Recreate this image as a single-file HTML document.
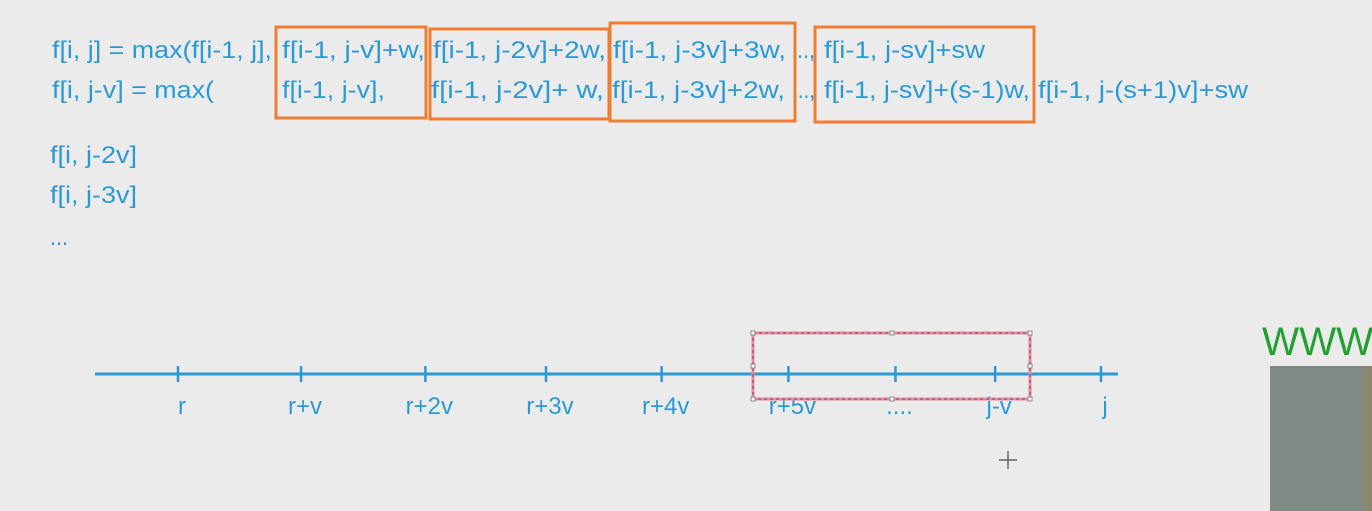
<!DOCTYPE html>
<html><head><meta charset="utf-8"><style>
html,body{margin:0;padding:0;background:#ebebeb;overflow:hidden}
svg{display:block}
text{font-family:"Liberation Sans","DejaVu Sans",sans-serif;fill:#2b9ad3;font-size:24px}
</style></head><body>
<svg width="1372" height="511" viewBox="0 0 1372 511">
<rect width="1372" height="511" fill="#ebebeb"/>
<g>
<text x="52" y="58" textLength="220" lengthAdjust="spacingAndGlyphs">f[i, j] = max(f[i-1, j],</text>
<text x="282" y="58" textLength="143" lengthAdjust="spacingAndGlyphs">f[i-1, j-v]+w,</text>
<text x="433" y="58" textLength="173" lengthAdjust="spacingAndGlyphs">f[i-1, j-2v]+2w,</text>
<text x="613" y="58" textLength="173" lengthAdjust="spacingAndGlyphs">f[i-1, j-3v]+3w,</text>
<text x="797" y="58" textLength="18" lengthAdjust="spacingAndGlyphs">..,</text>
<text x="824" y="58" textLength="161" lengthAdjust="spacingAndGlyphs">f[i-1, j-sv]+sw</text>
</g>
<g>
<text x="52" y="98" textLength="162" lengthAdjust="spacingAndGlyphs">f[i, j-v] = max(</text>
<text x="282" y="98" textLength="103" lengthAdjust="spacingAndGlyphs">f[i-1, j-v],</text>
<text x="431" y="98" textLength="173" lengthAdjust="spacingAndGlyphs">f[i-1, j-2v]+  w,</text>
<text x="612" y="98" textLength="173" lengthAdjust="spacingAndGlyphs">f[i-1, j-3v]+2w,</text>
<text x="792" y="98" textLength="23" lengthAdjust="spacingAndGlyphs">...,</text>
<text x="824" y="98" textLength="206" lengthAdjust="spacingAndGlyphs">f[i-1, j-sv]+(s-1)w,</text>
<text x="1038" y="98" textLength="210" lengthAdjust="spacingAndGlyphs">f[i-1, j-(s+1)v]+sw</text>
</g>
<text x="50" y="163" textLength="87" lengthAdjust="spacingAndGlyphs">f[i, j-2v]</text>
<text x="50" y="203" textLength="87" lengthAdjust="spacingAndGlyphs">f[i, j-3v]</text>
<text x="50" y="245" textLength="18" lengthAdjust="spacingAndGlyphs">...</text>
<g fill="none" stroke="#ef7d31" stroke-width="3">
<rect x="276" y="27" width="150" height="91"/>
<rect x="430" y="29" width="179" height="90"/>
<rect x="610" y="23" width="185" height="98"/>
<rect x="815" y="27" width="219" height="95"/>
</g>
<g id="axis"></g>
<g>
<rect x="753" y="333" width="277" height="66" fill="none" stroke="#f08a9a" stroke-width="3"/>
<rect x="753" y="333" width="277" height="66" fill="none" stroke="#5a4a8a" stroke-width="1" stroke-dasharray="3,3"/>
<g fill="#fff" stroke="#888" stroke-width="1">
<rect x="751" y="331" width="4" height="4"/><rect x="890" y="331" width="4" height="4"/><rect x="1028" y="331" width="4" height="4"/>
<rect x="751" y="364" width="4" height="4"/><rect x="1028" y="364" width="4" height="4"/>
<rect x="751" y="397" width="4" height="4"/><rect x="890" y="397" width="4" height="4"/><rect x="1028" y="397" width="4" height="4"/>
</g></g>
<g stroke="#666" stroke-width="1.5">
<line x1="1008" y1="451" x2="1008" y2="469"/><line x1="999" y1="460" x2="1017" y2="460"/>
</g>
<text x="1262" y="355" textLength="120" lengthAdjust="spacingAndGlyphs" style="font-size:40px;fill:#22a032">WWW.</text>
<rect x="1270" y="366" width="102" height="145" fill="#7e8a84"/>
<rect x="1362" y="366" width="10" height="145" fill="#8a8670"/>
</svg>
<script>
const tickLabels=["r","r+v","r+2v","r+3v","r+4v","r+5v","....","j-v","j"];
const tickPositions=[0,1,2.01,2.99,3.93,4.96,5.83,6.64,7.5];
const x0=178,x1=1101;
function sx(v){return x0+(x1-x0)*v/7.5;}
const ns="http://www.w3.org/2000/svg";
const g=document.getElementById('axis');
const ax=document.createElementNS(ns,'line');


ax.setAttribute('x1',95);ax.setAttribute('x2',1118);ax.setAttribute('y1',374);ax.setAttribute('y2',374);
ax.setAttribute('stroke','#2b9ad3');ax.setAttribute('stroke-width',3);
g.appendChild(ax);
tickLabels.forEach((lab,i)=>{
  const x=sx(tickPositions[i]);
  const t=document.createElementNS(ns,'line');
  
  
  t.setAttribute('x1',x);t.setAttribute('x2',x);t.setAttribute('y1',366);t.setAttribute('y2',382);
  t.setAttribute('stroke','#2b9ad3');t.setAttribute('stroke-width',2.5);
  g.appendChild(t);
  const tx=document.createElementNS(ns,'text');
  
  
  tx.setAttribute('x',x+4);tx.setAttribute('y',414);tx.setAttribute('text-anchor','middle');
  tx.textContent=lab;
  g.appendChild(tx);
});
</script>
</body></html>
